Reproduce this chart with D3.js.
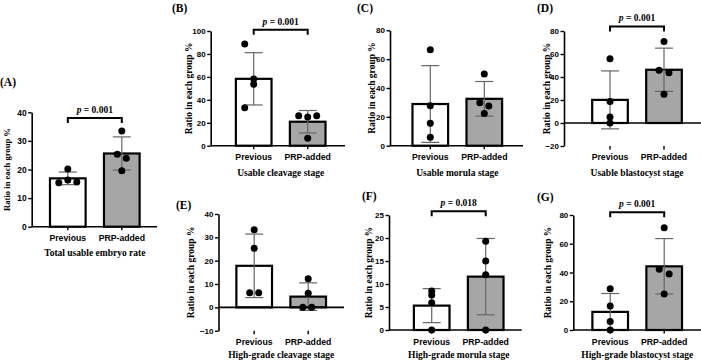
<!DOCTYPE html>
<html><head><meta charset="utf-8">
<script src="https://cdn.jsdelivr.net/npm/d3@7"></script>
<style>body{margin:0;background:#fff} svg{display:block}</style>
</head><body>
<script>
// ---------- data ----------
const categories = ["Previous", "PRP-added"];
const panelTags = ["(A)", "(B)", "(C)", "(D)", "(E)", "(F)", "(G)"];
const stageTitles = ["Total usable embryo rate", "Usable cleavage stage", "Usable morula stage",
  "Usable blastocyst stage", "High-grade cleavage stage", "High-grade morula stage", "High-grade blastocyst stage"];
const yAxisTitle = "Ratio in each group %";
const yMin = [0, 0, 0, -20, -10, 0, 0];
const yMax = [40, 100, 80, 80, 40, 25, 80];
const yStep = [10, 20, 20, 20, 10, 5, 20];
const meanPrevious = [16.9, 58.3, 28.9, 20.1, 17.8, 5.3, 12.6];
const sdPrevious = [2.2, 22.8, 26.6, 25.2, 13.6, 3.7, 12.8];
const meanPRP = [25.6, 20.9, 32.5, 46.3, 4.6, 11.6, 44.3];
const sdPRP = [5.8, 9.8, 12.0, 18.8, 5.9, 8.3, 19.3];
const pointsPrevious = [[20.2, 16.3, 15.4, 15.6], [88.7, 58.1, 53.5, 33.1], [66.5, 27.7, 15.5, 5.8],
  [55.9, 18.8, 5.2, 0], [33.2, 25.3, 6.3, 6.3], [8.5, 7.6, 5.9, 0], [28.7, 16.7, 6.0, 0]];
const pointsPRP = [[33.5, 25.3, 23.9, 19.6], [26.2, 25.0, 26.2, 6.4], [49.7, 29.8, 27.5, 22.4],
  [70.9, 45.8, 43.8, 24.9], [12.3, 6.0, 0, 0], [19.3, 15.0, 12.0, 0], [71.2, 42.2, 39.0, 25.0]];
const jitterPrevious = [[0, 0, -1, 1], [-1, 0, 0, -1], [0, 0, 0, 0], [0, 0, 0, 0], [0, 0, -0.5, 0.5], [0, 0, 0, 0], [0, 0, 0, 0]];
const jitterPRP = [[0, -0.5, 0.5, 0], [-1, 0, 1, 0], [0, -0.5, 0.5, 0], [0, -0.55, 0.55, 0], [0, 0, -0.6, 0.4], [0, 0, 0, 0], [0, -0.55, 0.55, 0]];
const pLabels = ["0.001", "0.001", null, "0.001", null, "0.018", "0.001"];
const bracketAt = [38, 101, null, 84, null, 25.8, 82];

// ---------- layout ----------
const frames = [
  {ax: 31.7, top: 112.3, bot: 226.7, xEnd: 157, c1: 67.8, catY: 237.7, titleY: 252.7, tagX: 0, tagY: 81.7, ylabX: 7},
  {ax: 210.7, top: 31, bot: 145.7, xEnd: 345, c1: 253.7, catY: 156.5, titleY: 172.5, tagX: 172, tagY: 8, ylabX: 188.3},
  {ax: 390, top: 30.3, bot: 145.7, xEnd: 523, c1: 430.3, catY: 156.5, titleY: 172.5, tagX: 357, tagY: 8, ylabX: 371.7},
  {ax: 564, top: 31, bot: 146, xEnd: 701, c1: 610, catY: 157, titleY: 173, tagX: 537, tagY: 8, ylabX: 546.7},
  {ax: 218.5, top: 214, bot: 330.7, xEnd: 344, c1: 254.2, catY: 341.7, titleY: 355, tagX: 176, tagY: 205, ylabX: 190.7},
  {ax: 389, top: 215, bot: 330, xEnd: 521.7, c1: 431.7, catY: 341.7, titleY: 354.5, tagX: 362, tagY: 196, ylabX: 368.3},
  {ax: 573.3, top: 215, bot: 330, xEnd: 701, c1: 610.2, catY: 341.7, titleY: 354.5, tagX: 537, tagY: 196.7, ylabX: 547.7}
];
const W = 701, H = 361;
const SERIF = "'Liberation Serif','Times New Roman',serif";
const SANS = "'Liberation Sans',Arial,sans-serif";
const fills = ["#ffffff", "#a6a6a6"];

const svg = d3.select("body").append("svg").attr("width", W).attr("height", H);
svg.append("rect").attr("width", W).attr("height", H).attr("fill", "#fff");

frames.forEach((f, i) => {
  const g = svg.append("g");
  const y = d3.scaleLinear().domain([yMin[i], yMax[i]]).range([f.bot, f.top]);
  const x = d3.scaleBand().domain(categories).range([f.c1 - 27, f.c1 + 81]).paddingInner(0.34).paddingOuter(0.17);
  const bw = x.bandwidth();
  const cx = c => x(c) + bw / 2;
  const means = [meanPrevious[i], meanPRP[i]];
  const sds = [sdPrevious[i], sdPRP[i]];
  const pts = [pointsPrevious[i], pointsPRP[i]];
  const jit = [jitterPrevious[i], jitterPRP[i]];

  // bars
  g.selectAll("rect.bar").data(categories).join("rect")
    .attr("x", c => x(c)).attr("width", bw)
    .attr("y", (c, k) => y(means[k])).attr("height", (c, k) => y(0) - y(means[k]))
    .attr("fill", (c, k) => fills[k]).attr("stroke", "#000").attr("stroke-width", 2.2);

  // error bars (mean ± SD)
  categories.forEach((c, k) => {
    const lo = y(means[k] - sds[k]), hi = y(means[k] + sds[k]);
    const eg = g.append("g").attr("stroke", "#666").attr("stroke-width", 1.2);
    eg.append("line").attr("x1", cx(c)).attr("x2", cx(c)).attr("y1", lo).attr("y2", hi);
    eg.append("line").attr("x1", cx(c) - 9).attr("x2", cx(c) + 9).attr("y1", hi).attr("y2", hi);
    eg.append("line").attr("x1", cx(c) - 9).attr("x2", cx(c) + 9).attr("y1", lo).attr("y2", lo);
  });

  // axes
  const yAxis = g.append("g").attr("transform", `translate(${f.ax},0)`)
    .call(d3.axisLeft(y).tickValues(d3.range(yMin[i], yMax[i] + 1e-9, yStep[i])).tickSize(3.5).tickSizeOuter(0).tickPadding(1.5));
  yAxis.select(".domain").attr("stroke", "#000").attr("stroke-width", 1.6);
  yAxis.selectAll(".tick line").attr("stroke", "#000").attr("stroke-width", 1.4);
  yAxis.selectAll(".tick text").attr("fill", "#000").style("font-family", SANS)
    .style("font-weight", "bold").style("font-size", i === 0 ? "8.4px" : "8px");

  // zero line (x axis)
  g.append("line").attr("x1", f.ax).attr("x2", f.xEnd).attr("y1", y(0)).attr("y2", y(0))
    .attr("stroke", "#000").attr("stroke-width", 1.6);
  // category ticks at bottom
  categories.forEach(c => {
    g.append("line").attr("x1", cx(c)).attr("x2", cx(c)).attr("y1", f.bot).attr("y2", f.bot + 3.5)
      .attr("stroke", "#000").attr("stroke-width", 1.4);
  });

  // points
  categories.forEach((c, k) => {
    g.selectAll(null).data(pts[k]).join("circle")
      .attr("cx", (v, j) => cx(c) + jit[k][j] * 9)
      .attr("cy", v => y(v)).attr("r", 3.5).attr("fill", "#000");
  });

  // category labels
  g.selectAll("text.cat").data(categories).join("text")
    .attr("x", c => cx(c)).attr("y", f.catY).attr("dy", "0.35em").attr("text-anchor", "middle")
    .style("font-family", SANS).style("font-weight", "bold").style("font-size", "8.7px")
    .text(c => c);

  // stage title
  g.append("text").attr("x", (cx(categories[0]) + cx(categories[1])) / 2).attr("y", f.titleY).attr("dy", "0.35em")
    .attr("text-anchor", "middle").style("font-family", SERIF).style("font-weight", "bold").style("font-size", "9.5px")
    .text(stageTitles[i]);

  // y axis title
  g.append("text").attr("transform", `translate(${f.ylabX},${(f.top + f.bot) / 2}) rotate(-90)`)
    .attr("dy", "0.35em").attr("text-anchor", "middle")
    .style("font-family", SERIF).style("font-weight", "bold").style("font-size", i === 0 ? "8.6px" : "9.5px")
    .text(yAxisTitle);

  // panel tag
  g.append("text").attr("x", f.tagX).attr("y", f.tagY).attr("dy", "0.35em")
    .style("font-family", SERIF).style("font-weight", "bold").style("font-size", "11.5px")
    .text(panelTags[i]);

  // significance bracket
  if (pLabels[i] !== null) {
    const yb = y(bracketAt[i]);
    const x1 = cx(categories[0]), x2 = cx(categories[1]);
    g.append("path").attr("d", `M${x1},${yb + 5}V${yb}H${x2}V${yb + 5}`)
      .attr("fill", "none").attr("stroke", "#000").attr("stroke-width", 2);
    const t = g.append("text").attr("x", (x1 + x2) / 2).attr("y", yb - 5).attr("text-anchor", "middle")
      .style("font-family", SERIF).style("font-weight", "bold").style("font-size", "9.5px");
    t.append("tspan").style("font-style", "italic").text("p");
    t.append("tspan").text(" = " + pLabels[i]);
  }
});
</script>
</body></html>
